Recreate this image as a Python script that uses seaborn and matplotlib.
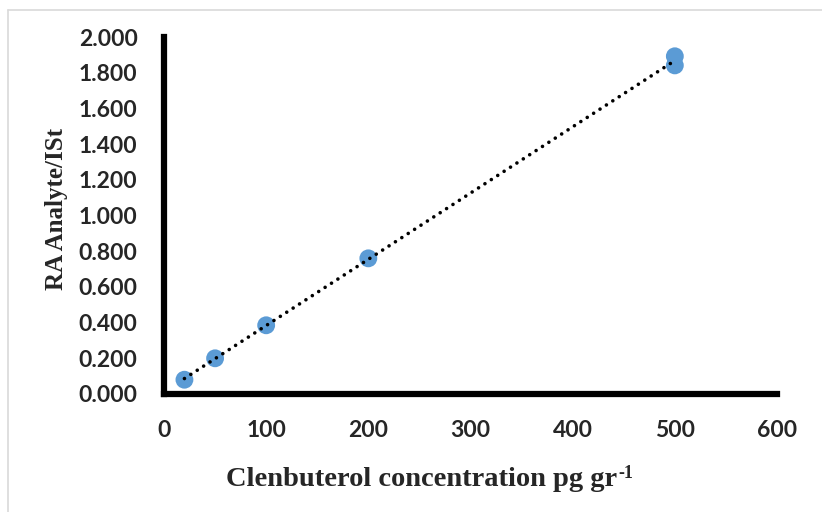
import numpy as np
import pandas as pd
import matplotlib
matplotlib.use("Agg")
import matplotlib.pyplot as plt
from matplotlib.lines import Line2D
import seaborn as sns

# calibration data
conc = [20, 50, 100, 200, 500, 500]
ratio = [0.080, 0.200, 0.385, 0.760, 1.892, 1.841]
x_ticks = [0, 100, 200, 300, 400, 500, 600]
y_ticks = [0.0, 0.2, 0.4, 0.6, 0.8, 1.0, 1.2, 1.4, 1.6, 1.8, 2.0]

df = pd.DataFrame({"conc": conc, "ratio": ratio})

sns.set_style("white")

fig = plt.figure(figsize=(8.22, 5.12), dpi=100)
ax = fig.add_axes([164 / 822, 118 / 512, 613 / 822, 357 / 512])

sns.scatterplot(data=df, x="conc", y="ratio", s=165, color="#5B9BD5",
                edgecolor="none", ax=ax, zorder=2)
sns.regplot(data=df, x="conc", y="ratio", scatter=False, ci=None, ax=ax,
            line_kws=dict(color="black", linewidth=2.6,
                          linestyle=(0, (0.01, 2.1)), dash_capstyle="round",
                          zorder=3))

ax.set_xlim(0, 600)
ax.set_ylim(0, 2.0)
ax.set_xticks(x_ticks)
ax.set_yticks(y_ticks)
ax.set_xticklabels([str(v) for v in x_ticks], fontfamily="Lato",
                   fontweight="bold", fontsize=16.5)
ax.set_yticklabels([f"{v:.3f}" for v in y_ticks], fontfamily="Lato",
                   fontweight="bold", fontsize=16.5)
ax.tick_params(axis="x", length=0, pad=19)
ax.tick_params(axis="y", length=0, pad=19)
ax.set_xlabel("")
ax.set_ylabel("")

sns.despine(ax=ax)
for side in ["left", "bottom"]:
    ax.spines[side].set_linewidth(4.5)
    ax.spines[side].set_color("black")
    ax.spines[side].set_capstyle("projecting")

serif = dict(fontfamily="Liberation Serif", fontweight="bold")
xl = fig.text(422 / 822, 1 - 480 / 512, "Clenbuterol concentration pg gr",
              ha="center", va="center", fontsize=20.5, **serif)
fig.canvas.draw()
bb = xl.get_window_extent(fig.canvas.get_renderer())
fig.text((bb.x1 + 1) / 822, (bb.y1 + 3) / 512, "-1", ha="left", va="top",
         fontsize=13, **serif)
fig.text(56 / 822, 1 - 209 / 512, "RA Analyte/ISt", rotation=90,
         ha="center", va="center", fontsize=18, **serif)

# light chart-area border (left and top edges visible)
fig.add_artist(Line2D([8 / 822, 8 / 822], [0, 1 - 10 / 512],
                      transform=fig.transFigure, color="#D9D9D9", linewidth=1.2))
fig.add_artist(Line2D([8 / 822, 1], [1 - 10 / 512, 1 - 10 / 512],
                      transform=fig.transFigure, color="#D9D9D9", linewidth=1.2))

fig.savefig("out.png", dpi=100)
